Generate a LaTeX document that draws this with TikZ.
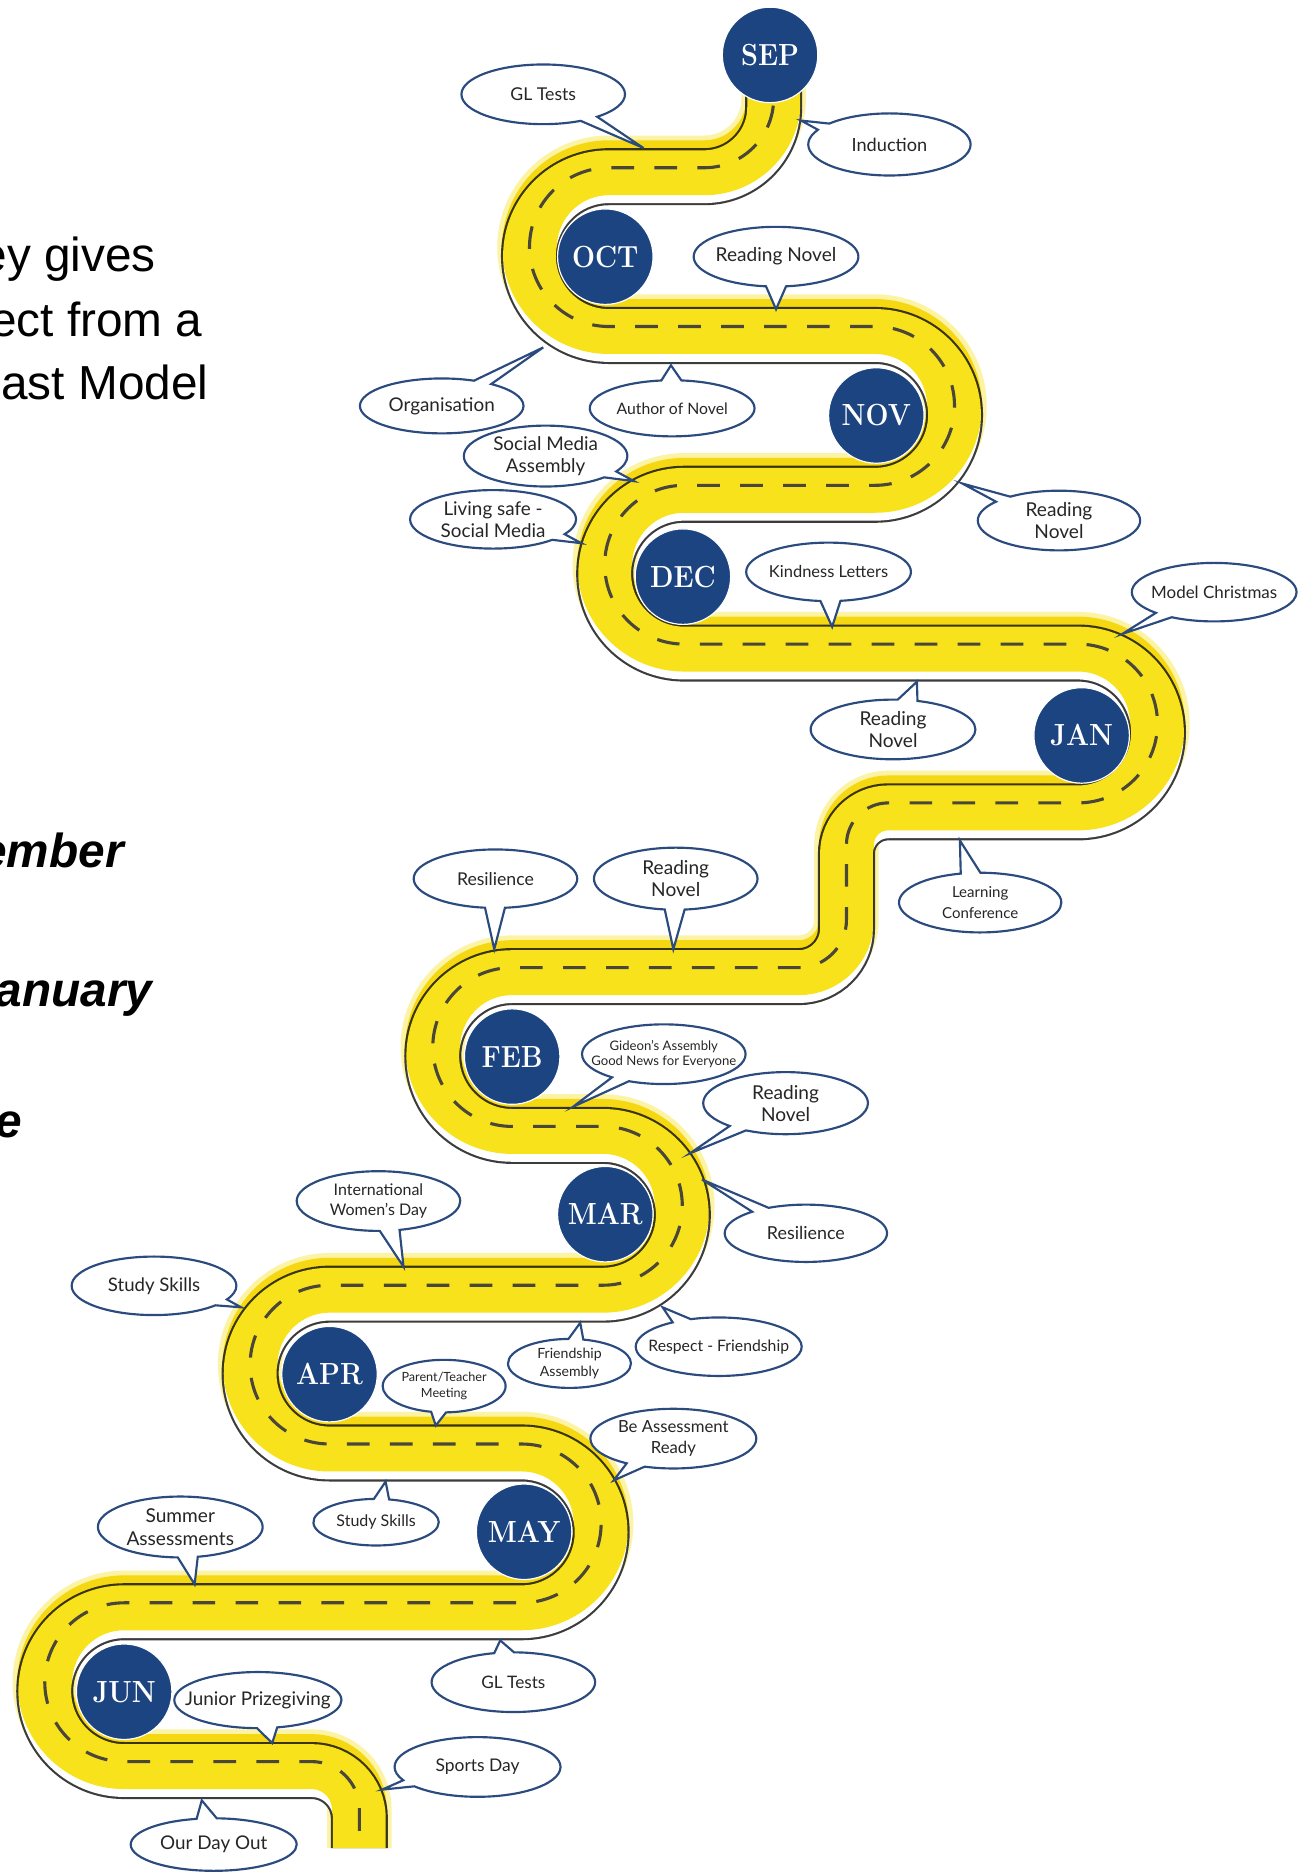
\documentclass[tikz,border=0pt]{standalone}
\usepackage{fontspec}
\usepackage{graphicx}
\usetikzlibrary{shapes.callouts,shapes.geometric}
\newfontfamily\latofont{Lato}
\newfontfamily\arialfont{Liberation Sans}
\definecolor{roadyellow}{HTML}{F8E21C}
\definecolor{monthnavy}{HTML}{1B4480}
\definecolor{bubline}{HTML}{2B4A7E}
\definecolor{roadline}{HTML}{3C3C3C}
\definecolor{dashcol}{HTML}{4A4738}
\newcommand{\lf}[2]{\latofont\fontsize{#1}{#2}\selectfont}
\newcommand{\mlab}[1]{\scalebox{0.89}[1]{#1}}
\newcommand{\roadpath}[1]{(648,60) -- (648,90) arc[start angle=0,end angle=90,radius=58] -- (510,148) arc[start angle=270,end angle=90,radius=66.5] -- (733,281) arc[start angle=270,end angle=450,radius=66.5] -- (573,414) arc[start angle=270,end angle=90,radius=66.5] -- (903,547) arc[start angle=270,end angle=450,radius=66.5] -- (744,680) arc[start angle=270,end angle=180,radius=35] -- (709,778) arc[start angle=0,end angle=90,radius=40] -- (429,818) arc[start angle=270,end angle=90,radius=66.5] -- (505,951) arc[start angle=270,end angle=450,radius=66.5] -- (276,1084) arc[start angle=270,end angle=90,radius=66.5] -- (437,1217) arc[start angle=270,end angle=450,radius=66.5] -- (104,1350) arc[start angle=270,end angle=90,radius=66.5] -- (261,1483) arc[start angle=270,end angle=360,radius=40] -- (301,#1)}
\begin{document}
\begin{tikzpicture}[x=0.5pt,y=-0.5pt,
  month/.style={circle, fill=monthnavy, draw=white, line width=0.5pt, minimum size=40pt, inner sep=0pt, text=white, font=\fontsize{12.8}{14}\selectfont\bfseries},
  bub/.style={ellipse callout, draw=bubline, line width=0.9pt, fill=white, inner xsep=-40pt, inner ysep=-15pt, align=center, callout pointer arc=14, text=black!85},
  sidetext/.style={anchor=base east, inner sep=0pt, text=black, font=\arialfont\fontsize{20}{24}\selectfont},
  sidebold/.style={anchor=base east, inner sep=0pt, text=black, font=\arialfont\fontsize{20}{24}\selectfont\bfseries\itshape}
]
\useasboundingbox[fill=white] (0,0) rectangle (1097,1568);

% left side text (cut off)
\node[sidetext] (t1) at (131,227.5) {ey gives};
\node[sidetext] (t2) at (170,282) {ect from a};
\node[sidetext] (t3) at (175,335) {ast Model};
\node[sidebold] (t4) at (104,727) {ember};
\node[sidebold] (t5) at (128,843) {anuary};
\node[sidebold] (t6) at (19,953) {e};

% road
\begin{scope}[shift={(0,-7.5)}]
  \draw[roadyellow!40, line width=27pt] \roadpath{1555.5};
\end{scope}
\draw[roadline, line width=23.9pt] \roadpath{1548};
\draw[white, line width=22.1pt] \roadpath{1548};
\begin{scope}[shift={(0,-7.5)}]
  \draw[roadyellow, line width=23pt, blend mode=multiply] \roadpath{1555.5};
  \draw[dashcol, line width=1.3pt, dash pattern=on 9.5pt off 8.5pt] \roadpath{1555.5};
\end{scope}

% months
\node[month] (sep) at (645,46) {\mlab{SEP}};
\node[month] (oct) at (507,215) {\mlab{OCT}};
\node[month] (nov) at (734,348) {\mlab{NOV}};
\node[month] (dec) at (572,483) {\mlab{DEC}};
\node[month] (jan) at (906,616) {\mlab{JAN}};
\node[month] (feb) at (429,885) {\mlab{FEB}};
\node[month] (mar) at (507,1017) {\mlab{MAR}};
\node[month] (apr) at (276,1151) {\mlab{APR}};
\node[month] (may) at (439,1283) {\mlab{MAY}};
\node[month] (jun) at (104,1417) {\mlab{JUN}};

% bubbles
\node[bub, minimum width=68.5pt, minimum height=25pt, callout absolute pointer={(539,124)}, font=\lf{7.4}{8.8}] (gl1) at (455,79) {GL Tests};
\node[bub, minimum width=68pt, minimum height=26pt, callout absolute pointer={(671,101)}, font=\lf{7.6}{9}] (ind) at (745,121) {Induction};
\node[bub, minimum width=69pt, minimum height=25pt, callout absolute pointer={(650,259)}, font=\lf{8}{9.4}] (rn1) at (650,215) {Reading Novel};
\node[bub, minimum width=68.5pt, minimum height=23pt, callout absolute pointer={(455,291)}, font=\lf{7.9}{9.3}] (org) at (370,340) {Organisation};
\node[bub, minimum width=69pt, minimum height=23.5pt, callout absolute pointer={(562,306)}, font=\lf{6.6}{8}] (aut) at (563,342) {Author of Novel};
\node[bub, minimum width=68.5pt, minimum height=25.5pt, callout absolute pointer={(531,403)}, font=\lf{7.9}{9.2}] (sma) at (457,382) {Social Media\\Assembly};
\node[bub, minimum width=69.5pt, minimum height=24.5pt, callout absolute pointer={(487,455)}, font=\lf{7.9}{9.2}] (lss) at (413,435) {Living safe -\\Social Media};
\node[bub, minimum width=68pt, minimum height=25pt, callout absolute pointer={(806,405)}, font=\lf{8}{9.2}] (rn2) at (887,436) {Reading\\Novel};
\node[bub, minimum width=69pt, minimum height=24.5pt, callout absolute pointer={(697,525)}, font=\lf{6.9}{8.2}] (kin) at (694,479) {Kindness Letters};
\node[bub, minimum width=69pt, minimum height=24.5pt, callout absolute pointer={(940,531)}, font=\lf{7.1}{8.4}] (chr) at (1017,496) {Model Christmas};
\node[bub, minimum width=69pt, minimum height=25pt, callout absolute pointer={(768,571)}, font=\lf{8}{9.2}] (rn3) at (748,611) {Reading\\Novel};
\node[bub, minimum width=68pt, minimum height=25pt, callout absolute pointer={(804,704)}, font=\lf{6.3}{8.4}] (lco) at (821,756) {Learning\\Conference};
\node[bub, minimum width=68.5pt, minimum height=24.5pt, callout absolute pointer={(414,795)}, font=\lf{7.4}{8.8}] (re1) at (415,736) {Resilience};
\node[bub, minimum width=68.5pt, minimum height=26pt, callout absolute pointer={(564,795)}, font=\lf{8}{9.2}] (rn4) at (566,736) {Reading\\Novel};
\node[bub, minimum width=68.5pt, minimum height=25pt, callout absolute pointer={(480,927)}, font=\lf{5.5}{6.6}] (gid) at (556,883) {Gideon’s Assembly\\Good News for Everyone};
\node[bub, minimum width=69pt, minimum height=26pt, callout absolute pointer={(578,966)}, font=\lf{8}{9.2}] (rn5) at (658,924) {Reading\\Novel};
\node[bub, minimum width=68pt, minimum height=24pt, callout absolute pointer={(588,988)}, font=\lf{7.5}{8.8}] (re2) at (675,1033) {Resilience};
\node[bub, minimum width=68.5pt, minimum height=25pt, callout absolute pointer={(338,1061)}, font=\lf{6.7}{8.2}] (iwd) at (317,1006) {International\\Women’s Day};
\node[bub, minimum width=69pt, minimum height=24.5pt, callout absolute pointer={(202,1095)}, font=\lf{7.8}{9}] (ss1) at (129,1077) {Study Skills};
\node[bub, minimum width=51.5pt, minimum height=20.5pt, callout absolute pointer={(486,1108)}, font=\lf{5.9}{7.4}] (fri) at (477,1142) {Friendship\\Assembly};
\node[bub, minimum width=69.5pt, minimum height=24.5pt, callout absolute pointer={(555,1095)}, font=\lf{6.6}{8}] (rsp) at (602,1128) {Respect - Friendship};
\node[bub, minimum width=51.5pt, minimum height=22pt, callout absolute pointer={(365,1194)}, font=\lf{5.3}{6.8}] (ptm) at (372,1161) {Parent/Teacher\\Meeting};
\node[bub, minimum width=69.5pt, minimum height=25pt, callout absolute pointer={(514,1240)}, font=\lf{7}{9}] (bar) at (564,1205) {Be Assessment\\Ready};
\node[bub, minimum width=52.5pt, minimum height=19.5pt, callout absolute pointer={(323,1241)}, font=\lf{6.7}{8}] (ss2) at (315,1275) {Study Skills};
\node[bub, minimum width=69pt, minimum height=25.5pt, callout absolute pointer={(163,1327)}, font=\lf{8}{9.6}] (sum) at (151,1279) {Summer\\Assessments};
\node[bub, minimum width=68.5pt, minimum height=25pt, callout absolute pointer={(419,1374)}, font=\lf{7.2}{8.6}] (gl2) at (430,1409) {GL Tests};
\node[bub, minimum width=70pt, minimum height=23.5pt, callout absolute pointer={(228,1460)}, font=\lf{7.9}{9.2}] (jpz) at (216,1424) {Junior Prizegiving};
\node[bub, minimum width=69.5pt, minimum height=25pt, callout absolute pointer={(320,1499)}, font=\lf{7.3}{8.6}] (spd) at (400,1480) {Sports Day};
\node[bub, minimum width=69.5pt, minimum height=22pt, callout absolute pointer={(169,1508)}, font=\lf{7.9}{9.2}] (odo) at (179,1545) {Our Day Out};
\end{tikzpicture}
\end{document}
